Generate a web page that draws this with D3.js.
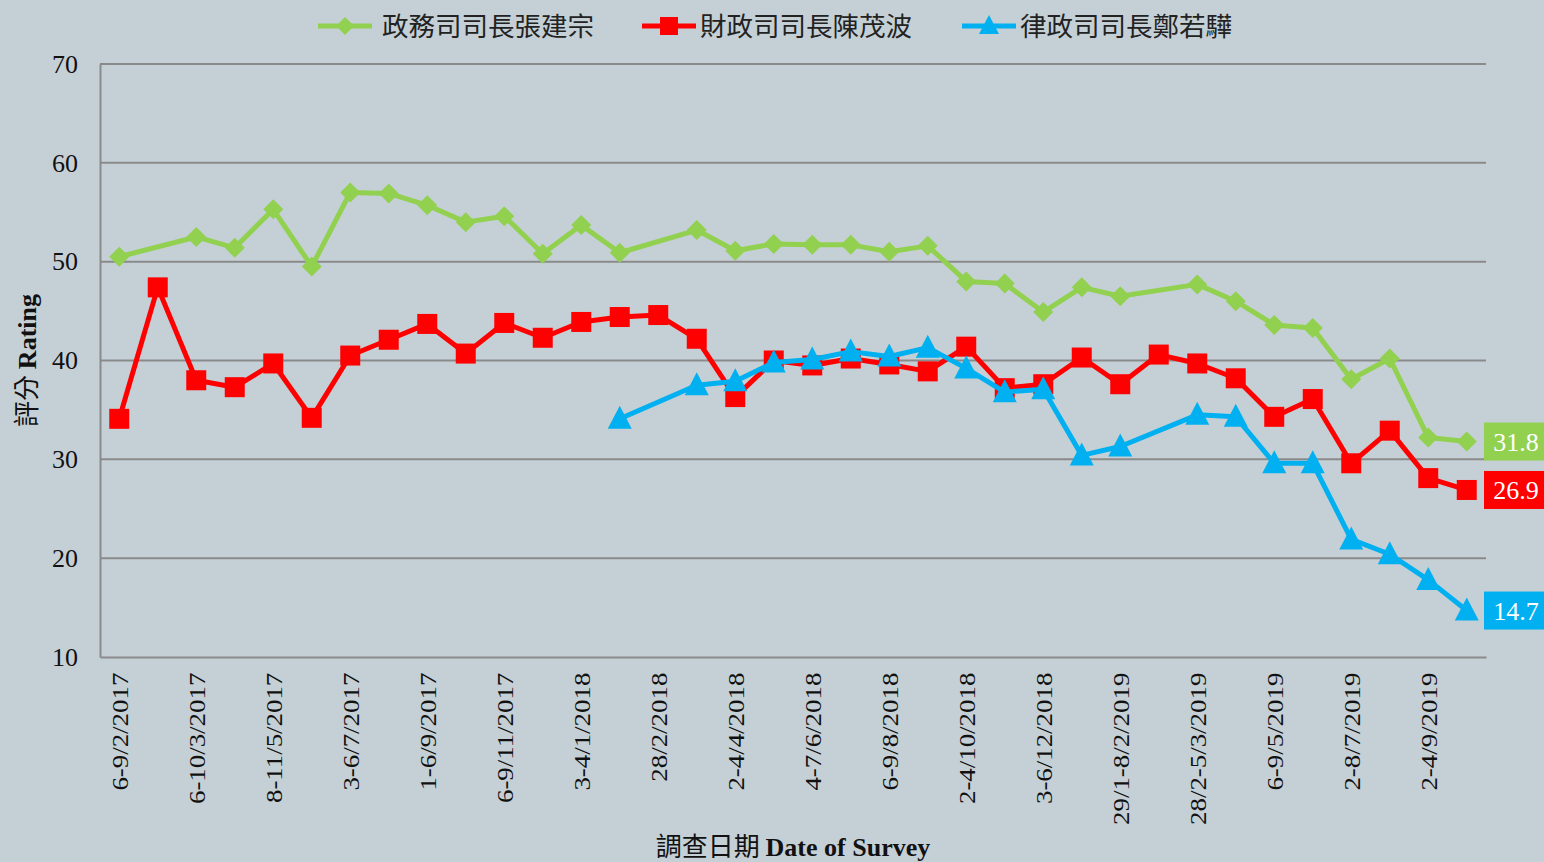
<!DOCTYPE html>
<html>
<head>
<meta charset="utf-8">
<script src="https://d3js.org/d3.v7.min.js"></script>
<style>
  html, body { margin: 0; padding: 0; background: #c5d0d6; }
  svg { display: block; }
  .serif { font-family: 'Liberation Serif', 'Times New Roman', serif; }
</style>
</head>
<body>
<div id="chart"></div>
<script>
// survey dates, only every other one is labelled on the axis
const tickLabels = ["6-9/2/2017", "", "6-10/3/2017", "", "8-11/5/2017", "", "3-6/7/2017", "",
  "1-6/9/2017", "", "6-9/11/2017", "", "3-4/1/2018", "", "28/2/2018", "", "2-4/4/2018", "",
  "4-7/6/2018", "", "6-9/8/2018", "", "2-4/10/2018", "", "3-6/12/2018", "", "29/1-8/2/2019", "",
  "28/2-5/3/2019", "", "6-9/5/2019", "", "2-8/7/2019", "", "2-4/9/2019", ""];

const seriesNames = ["政務司司長張建宗", "財政司司長陳茂波", "律政司司長鄭若驊"];
const seriesColors = ["#92d050", "#ff0000", "#00b0f0"];

const cs = [50.5, null, 52.5, 51.4, 55.3, 49.5, 57.0, 56.9, 55.7, 54.0, 54.6, 50.8, 53.7, 50.9,
  null, 53.2, 51.1, 51.8, 51.7, 51.7, 51.0, 51.6, 48.0, 47.8, 44.9, 47.4, 46.5, null,
  47.7, 46.0, 43.6, 43.3, 38.1, 40.2, 32.2, 31.8];
const fs = [34.1, 47.4, 38.0, 37.3, 39.7, 34.2, 40.5, 42.1, 43.7, 40.7, 43.8, 42.3, 43.9, 44.4,
  44.6, 42.2, 36.3, 40.0, 39.5, 40.2, 39.6, 38.9, 41.4, 37.2, 37.6, 40.3, 37.6, 40.6,
  39.7, 38.2, 34.3, 36.1, 29.6, 32.9, 28.1, 26.9];
const sj = [null, null, null, null, null, null, null, null, null, null, null, null, null, 34.1,
  null, 37.5, 37.9, 39.8, 40.1, 40.9, 40.4, 41.3, 39.2, 36.8, 37.1, 30.4, 31.3, null,
  34.5, 34.3, 29.6, 29.6, 21.9, 20.4, 17.8, 14.7];

const yTicks = [10, 20, 30, 40, 50, 60, 70];

const width = 1544, height = 862;
const margin = { top: 64, right: 58, bottom: 205, left: 100 };

const svg = d3.select("#chart").append("svg")
  .attr("width", width).attr("height", height);

svg.append("rect").attr("width", width).attr("height", height).attr("fill", "#c5d0d6");

const x = d3.scaleBand()
  .domain(d3.range(tickLabels.length))
  .range([margin.left, width - margin.right]);

const y = d3.scaleLinear()
  .domain([10, 70])
  .range([height - margin.bottom, margin.top]);

const cx = i => x(i) + x.bandwidth() / 2;

// gridlines
svg.append("g").selectAll("line")
  .data(yTicks.slice(1))
  .join("line")
  .attr("x1", margin.left).attr("x2", width - margin.right)
  .attr("y1", d => y(d)).attr("y2", d => y(d))
  .attr("stroke", "#8a8a8a").attr("stroke-width", 2);

// y axis
const yAxis = svg.append("g")
  .attr("transform", `translate(${margin.left},0)`)
  .call(d3.axisLeft(y).tickValues(yTicks).tickSize(0).tickPadding(22));
yAxis.select(".domain").attr("stroke", "#8a8a8a").attr("stroke-width", 2);
yAxis.selectAll("text").attr("class", "serif").attr("font-size", 26).attr("fill", "#111");

// x axis (labels are stretched a little along their length, like the original)
const xAxis = svg.append("g")
  .attr("transform", `translate(0,${y(10)})`)
  .call(d3.axisBottom(x).tickSize(0).tickFormat(i => tickLabels[i]));
xAxis.select(".domain").attr("stroke", "#8a8a8a").attr("stroke-width", 2);
xAxis.selectAll("text")
  .attr("class", "serif")
  .attr("font-size", 24)
  .attr("fill", "#111")
  .attr("transform", "rotate(-90) scale(1.12,1)")
  .attr("text-anchor", "end")
  .attr("dy", "0.35em")
  .attr("x", -14)
  .attr("y", 0);

// axis titles
svg.append("text")
  .attr("transform", `translate(36,${y(40)}) rotate(-90)`)
  .attr("text-anchor", "middle")
  .attr("font-size", 26)
  .attr("fill", "#111")
  .html("<tspan font-family=\"'Noto Sans CJK TC'\">評分 </tspan><tspan font-family=\"'Liberation Serif'\" font-weight=\"bold\">Rating</tspan>");

svg.append("text")
  .attr("x", 793).attr("y", 856)
  .attr("text-anchor", "middle")
  .attr("font-size", 26)
  .attr("fill", "#111")
  .html("<tspan font-family=\"'Noto Sans CJK TC'\">調查日期 </tspan><tspan font-family=\"'Liberation Serif'\" font-weight=\"bold\">Date of Survey</tspan>");

// markers
function marker(sel, kind, color, s) {
  if (kind === 0) {
    sel.append("path").attr("d", `M0,${-s}L${s},0L0,${s}L${-s},0Z`).attr("fill", color);
  } else if (kind === 1) {
    sel.append("rect").attr("x", -s).attr("y", -s).attr("width", 2 * s).attr("height", 2 * s).attr("fill", color);
  } else {
    sel.append("path").attr("d", `M0,${-s - 2}L${s + 1},${s - 1}L${-s - 1},${s - 1}Z`).attr("fill", color);
  }
}

const allSeries = [cs, fs, sj];
const markerSize = [10, 10, 11];

allSeries.forEach((vals, k) => {
  const pts = vals.map((v, i) => ({ i, v })).filter(d => d.v !== null);
  const line = d3.line().x(d => cx(d.i)).y(d => y(d.v));
  svg.append("path")
    .datum(pts)
    .attr("d", line)
    .attr("fill", "none")
    .attr("stroke", seriesColors[k])
    .attr("stroke-width", 5)
    .attr("stroke-linejoin", "round");
  svg.append("g").selectAll("g")
    .data(pts)
    .join("g")
    .attr("transform", d => `translate(${cx(d.i)},${y(d.v)})`)
    .each(function () { marker(d3.select(this), k, seriesColors[k], markerSize[k]); });

  // end label box
  const last = pts[pts.length - 1];
  const lab = svg.append("g").attr("transform", `translate(${width - 60},${y(last.v) - 19})`);
  lab.append("rect").attr("width", 60).attr("height", 38).attr("fill", seriesColors[k]);
  lab.append("text")
    .attr("class", "serif")
    .attr("x", 32).attr("y", 28)
    .attr("text-anchor", "middle")
    .attr("font-size", 26)
    .attr("fill", "#fff")
    .text(last.v.toFixed(1));
});

// legend
const legendX = [318, 642, 962];
seriesNames.forEach((name, k) => {
  const g = svg.append("g").attr("transform", `translate(${legendX[k]},26)`);
  g.append("line").attr("x1", 0).attr("x2", 54).attr("stroke", seriesColors[k]).attr("stroke-width", 5);
  const m = g.append("g").attr("transform", "translate(27,0)");
  marker(m, k, seriesColors[k], 9);
  g.append("text")
    .attr("x", k === 0 ? 64 : 58).attr("y", 10)
    .attr("font-family", "'Noto Sans CJK TC'")
    .attr("font-size", 26.5)
    .attr("fill", "#222")
    .text(name);
});
</script>
</body>
</html>
